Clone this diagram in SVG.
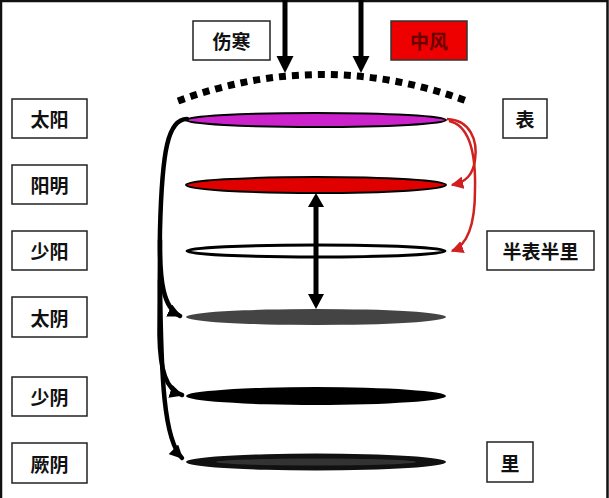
<svg xmlns="http://www.w3.org/2000/svg" width="609" height="498" viewBox="0 0 609 498">
<defs>
<style>
.box{fill:#fff;stroke:#222;stroke-width:1.5}
.lbl{font-family:"Noto Sans CJK SC","Noto Sans CJK JP",sans-serif;font-weight:bold;font-size:19px;fill:#111;text-anchor:middle;dominant-baseline:central}
.blk{fill:none;stroke:#000;stroke-width:4.5;stroke-linecap:round}
.red{fill:none;stroke:#d02020;stroke-width:2.5}
</style>
<marker id="ab" viewBox="0 0 10 10" refX="9" refY="5" markerWidth="3" markerHeight="3" orient="auto" markerUnits="strokeWidth">
<path d="M0,0 L10,5 L0,10 z" fill="#000"/>
</marker>
<marker id="ar" viewBox="0 0 10 10" refX="9" refY="5" markerWidth="5" markerHeight="5" orient="auto" markerUnits="strokeWidth">
<path d="M0,0 L10,5 L0,10 z" fill="#d02020"/>
</marker>
</defs>
<rect width="609" height="498" fill="#fff"/>
<path d="M1,498 V1 H607.5 V498" fill="none" stroke="#111" stroke-width="2.5"/>

<g id="discs">
<ellipse id="taiyang-disc" cx="316" cy="120" rx="130" ry="7" fill="#cc22cc" stroke="#000" stroke-width="2"/>
<ellipse id="yangming-disc" cx="316" cy="185" rx="130" ry="8" fill="#e00000" stroke="#000" stroke-width="2"/>
<ellipse id="shaoyang-disc" cx="316" cy="251" rx="129" ry="6" fill="#fff" stroke="#000" stroke-width="3"/>
<ellipse id="taiyin-disc" cx="316" cy="317" rx="130" ry="8" fill="#444"/>
<ellipse id="shaoyin-disc" cx="316" cy="396" rx="130" ry="9" fill="#000"/>
<ellipse id="jueyin-disc" cx="316" cy="462" rx="130" ry="8.5" fill="#111"/>
<ellipse cx="316" cy="462" rx="100" ry="3.5" fill="#333"/>
</g>

<g id="connectors">
<path d="M178,101 Q322,48 467,101" fill="none" stroke="#000" stroke-width="7" stroke-dasharray="7 6"/>
<line x1="285" y1="0" x2="285" y2="58" stroke="#000" stroke-width="5"/>
<polygon points="276.5,56 293.5,56 285,73" fill="#000"/>
<line x1="361" y1="0" x2="361" y2="58" stroke="#000" stroke-width="5"/>
<polygon points="352.5,56 369.5,56 361,73" fill="#000"/>
<line x1="316" y1="205" x2="316" y2="296" stroke="#000" stroke-width="5"/>
<polygon points="308,207 324,207 316,193" fill="#000"/>
<polygon points="308,294 324,294 316,309" fill="#000"/>
<path class="blk" d="M187,119 C168,119 162,150 160,230 C159,285 164,308 180,316" marker-end="url(#ab)"/>
<path class="blk" d="M160,240 L159.5,335 C160,370 166,390 182,395" marker-end="url(#ab)"/>
<path class="blk" d="M160,280 C161,380 164,440 182,458" marker-end="url(#ab)"/>
<path class="red" d="M447,119 C470,120 478,140 475,160 C473,175 466,182 452,185" marker-end="url(#ar)"/>
<path class="red" d="M449,121 C468,125 476,150 475,190 C475,225 468,245 452,251" marker-end="url(#ar)"/>
</g>

<g id="n-shanghan"><rect class="box" x="193" y="21" width="77" height="39"/><text class="lbl" x="231.5" y="40.5">伤寒</text></g>
<g id="n-zhongfeng"><rect x="391" y="21" width="76" height="39" fill="#ee0000" stroke="#333" stroke-width="1.5"/><text class="lbl" x="429" y="40.5" style="fill:#6a0000">中风</text></g>

<g id="n-taiyang"><rect class="box" x="12" y="99" width="75" height="39"/><text class="lbl" x="49.5" y="118.5">太阳</text></g>
<g id="n-yangming"><rect class="box" x="12" y="165" width="75" height="39"/><text class="lbl" x="49.5" y="184.5">阳明</text></g>
<g id="n-shaoyang"><rect class="box" x="12" y="231" width="75" height="39"/><text class="lbl" x="49.5" y="250.5">少阳</text></g>
<g id="n-taiyin"><rect class="box" x="12" y="297" width="75" height="40"/><text class="lbl" x="49.5" y="317">太阴</text></g>
<g id="n-shaoyin"><rect class="box" x="12" y="377" width="75" height="39"/><text class="lbl" x="49.5" y="396.5">少阴</text></g>
<g id="n-jueyin"><rect class="box" x="12" y="443" width="75" height="40"/><text class="lbl" x="49.5" y="463">厥阴</text></g>

<g id="n-biao"><rect class="box" x="503" y="99" width="44" height="39"/><text class="lbl" x="525" y="118.5">表</text></g>
<g id="n-banbiaobanli"><rect class="box" x="487" y="231" width="107" height="39"/><text class="lbl" x="540.5" y="250.5">半表半里</text></g>
<g id="n-li"><rect class="box" x="487" y="442" width="46" height="40"/><text class="lbl" x="510" y="462">里</text></g>
</svg>
